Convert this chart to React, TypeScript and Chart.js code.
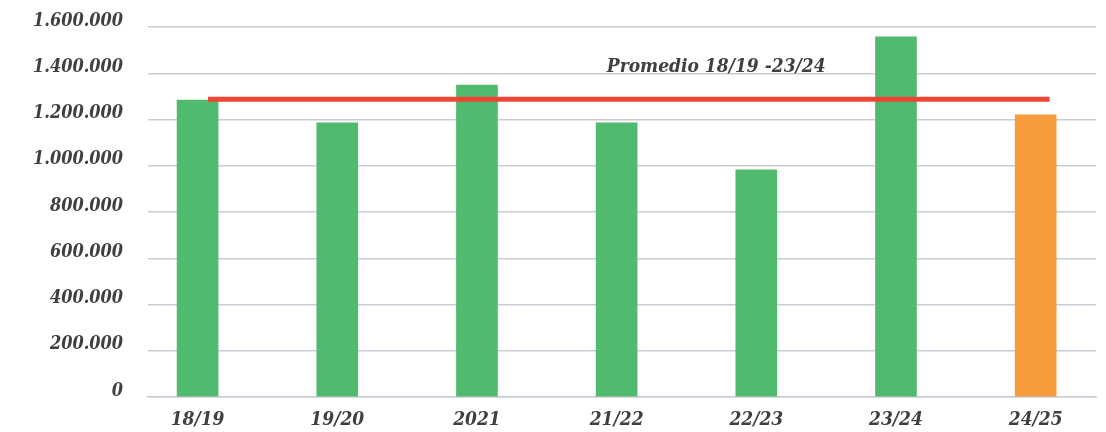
import { useEffect, useRef } from 'react';
import { Chart, registerables } from 'chart.js';

Chart.register(...registerables);

const categories = ['18/19', '19/20', '2021', '21/22', '22/23', '23/24', '24/25'];
const seasonValues = [1284000, 1186000, 1349000, 1186000, 982000, 1558000, 1220000];
const seasonKinds = ['past', 'past', 'past', 'past', 'past', 'past', 'current'];
const averageLabel = 'Promedio 18/19 -23/24';
const averageValue = 1288000;
const averageFrom = 0.075;
const averageTo = 6.1;
const labelAtX = 2.93;
const labelAtY = 1405000;
const yMax = 1600000;
const yStep = 200000;

const GREEN = '#52ba6f';
const ORANGE = '#f79c3d';
const RED = '#ee4535';
const TEXT = '#404040';
const GRID = '#c8ccd5';
const FONT = '"DejaVu Serif Condensed", "DejaVu Serif", serif';

const fmt = (v: number) => String(Math.round(v)).replace(/\B(?=(\d{3})+(?!\d))/g, '.');

const labelPlugin = {
  id: 'avgLabel',
  afterDatasetsDraw(chart: any) {
    const { ctx, scales } = chart;
    const x = scales.x.getPixelForValue(labelAtX);
    const y = scales.y.getPixelForValue(labelAtY);
    ctx.save();
    ctx.font = `italic bold 19px ${FONT}`;
    ctx.fillStyle = TEXT;
    ctx.textAlign = 'left';
    ctx.textBaseline = 'alphabetic';
    ctx.fillText(averageLabel, x, y);
    ctx.restore();
  },
};

export default function App() {
  const ref = useRef<HTMLCanvasElement | null>(null);
  useEffect(() => {
    if (!ref.current) return;
    const chart = new Chart(ref.current, {
      type: 'bar',
      data: {
        datasets: [
          {
            type: 'line',
            label: averageLabel,
            data: [
              { x: averageFrom, y: averageValue },
              { x: averageTo, y: averageValue },
            ],
            borderColor: RED,
            borderWidth: 5,
            pointRadius: 0,
            order: 0,
          } as any,
          {
            type: 'bar',
            label: 'Temporadas',
            data: seasonValues.map((v, i) => ({ x: i, y: v })),
            backgroundColor: seasonKinds.map((k) => (k === 'current' ? ORANGE : GREEN)),
            barThickness: 41,
            order: 1,
          } as any,
        ],
      },
      options: {
        animation: false,
        responsive: true,
        maintainAspectRatio: false,
        layout: { padding: { top: 27, right: 10, bottom: 0, left: 8 } },
        plugins: { legend: { display: false }, tooltip: { enabled: false } },
        scales: {
          x: {
            type: 'linear',
            offset: false,
            min: -0.354,
            max: 6.432,
            grid: { display: false, drawTicks: false },
            border: { display: true, color: GRID, width: 1.5 },
            afterBuildTicks: (axis: any) => {
              axis.ticks = categories.map((_, i) => ({ value: i }));
            },
            afterFit: (axis: any) => {
              axis.height = 35;
            },
            ticks: {
              autoSkip: false,
              maxRotation: 0,
              padding: 12,
              color: TEXT,
              font: { family: FONT, size: 19, style: 'italic', weight: 'bold' },
              callback: (v: any) => categories[Math.round(Number(v))] ?? '',
            },
          },
          y: {
            min: 0,
            max: yMax,
            afterFit: (axis: any) => {
              axis.paddingTop = 0;
              axis.paddingBottom = 0;
            },
            ticks: {
              stepSize: yStep,
              padding: 25,
              labelOffset: -6,
              color: TEXT,
              font: { family: FONT, size: 18, style: 'italic', weight: 'bold' },
              callback: (v: any) => fmt(Number(v)),
            },
            grid: { color: GRID, lineWidth: 1.5, drawTicks: false },
            border: { display: false },
          },
        },
      },
      plugins: [labelPlugin],
    });
    return () => chart.destroy();
  }, []);
  return (
    <div style={{ position: 'absolute', left: 0, top: 0, width: 1106, height: 432, background: '#fff' }}>
      <canvas ref={ref} />
    </div>
  );
}
